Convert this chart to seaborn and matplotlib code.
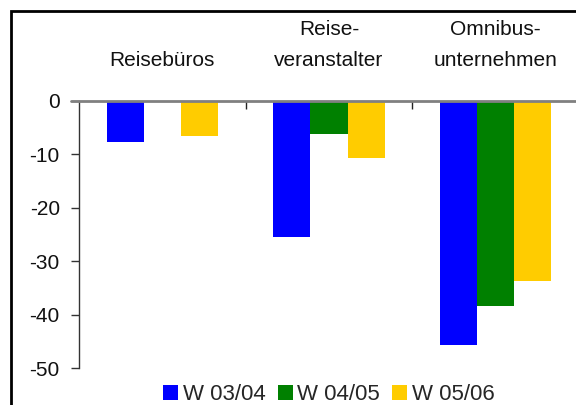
import numpy as np
import pandas as pd
import matplotlib
matplotlib.use("Agg")
import matplotlib.pyplot as plt
from matplotlib.patches import Rectangle
import seaborn as sns

# --- DATA ---
categories = ["Reisebüros", "Reise-\nveranstalter", "Omnibus-\nunternehmen"]
seasons = ["W 03/04", "W 04/05", "W 05/06"]
w0304 = [-7.7, -25.4, -45.7]
w0405 = [np.nan, -6.1, -38.4]
w0506 = [-6.5, -10.6, -33.7]
colors = ["#0000FF", "#008000", "#FFCC00"]

df = pd.DataFrame({
    "category": categories * 3,
    "season": [s for s in seasons for _ in categories],
    "value": w0304 + w0405 + w0506,
})

sns.set_theme(style="white")
plt.rcParams["font.family"] = ["Liberation Sans", "DejaVu Sans"]
plt.rcParams["axes.unicode_minus"] = False

fig = plt.figure(figsize=(5.76, 4.05), dpi=100)
ax = fig.add_axes([79 / 576, 37 / 405, 500 / 576, 267 / 405])

sns.barplot(data=df, x="category", y="value", hue="season", order=categories,
            hue_order=seasons, palette=colors, width=0.667, saturation=1,
            errorbar=None, linewidth=0, ax=ax, legend=True)

ax.set_ylim(-50, 0)
ax.set_xlim(-0.5, 2.5)
ax.set_yticks(np.arange(-50, 1, 10))
ax.set_xlabel("")
ax.set_ylabel("")

# category names above the zero line, separators pointing down
ax.xaxis.tick_top()
ax.set_xticks(range(len(categories)))
ax.set_xticklabels(categories, fontsize=15, color="#111111", linespacing=1.85)
ax.tick_params(axis="x", which="major", length=0, pad=22)
ax.set_xticks([0.5, 1.5], minor=True)
ax.tick_params(axis="x", which="minor", direction="in", length=6, width=1, color="#222222")
ax.tick_params(axis="y", direction="out", length=5.8, width=1, color="#333333",
               labelsize=15, labelcolor="#111111", pad=8, left=True)

for s in ["bottom", "right", "top"]:
    ax.spines[s].set_visible(False)
ax.spines["left"].set_color("#333333")
ax.spines["left"].set_linewidth(1)
ax.axhline(0, xmin=-0.016, xmax=1.0, color="#808080", lw=2, clip_on=False, zorder=5)

handles, labels = ax.get_legend_handles_labels()
ax.legend(handles, labels, loc="lower center", bbox_to_anchor=(0.5, -0.173),
          ncol=3, frameon=False, fontsize=16, handlelength=0.68, handleheight=0.72,
          handletextpad=0.2, columnspacing=0.55, borderaxespad=0)

# outer frame
fig.patches.append(Rectangle((11 / 576, -0.1), 1.2, 1.1 - 11 / 405, transform=fig.transFigure,
                             fill=False, edgecolor="black", lw=2))

fig.savefig("out.png", dpi=100)
